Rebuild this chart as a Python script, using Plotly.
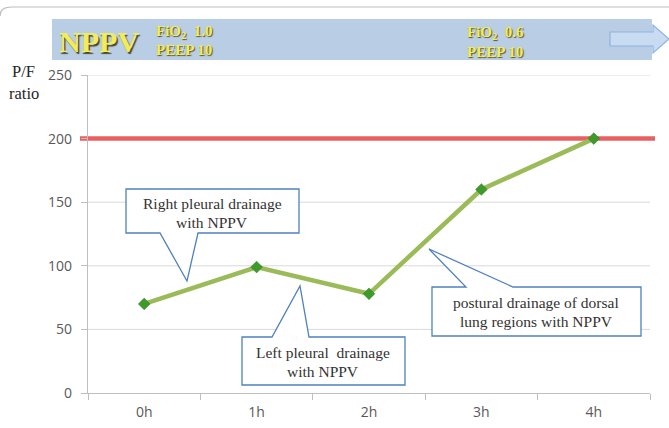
import plotly.graph_objects as go

# ---- data ----
hours = ["0h", "1h", "2h", "3h", "4h"]
pf_ratio = [70, 99, 78, 160, 200]
target_pf = 200
y_ticks = [0, 50, 100, 150, 200, 250]

W, H = 669, 428
ML, MR, MT, MB = 88, 19, 75, 35
PW = W - ML - MR
PH = H - MT - MB


def px(x):
    return (x - ML) / PW


def py(y):
    return (H - MB - y) / PH


def path(points):
    return "M " + " L ".join(f"{px(x):.5f},{py(y):.5f}" for x, y in points) + " Z"


fig = go.Figure()
fig.add_trace(go.Scatter(
    x=hours, y=pf_ratio, mode="lines+markers",
    line=dict(color="#9bbb59", width=4.5),
    marker=dict(symbol="diamond", size=9, color="#3f9a2c",
                line=dict(color="#2f7d1f", width=0.5)),
    showlegend=False, hoverinfo="skip",
))

shapes = []
# horizontal gridlines at the y tick values
for t in y_ticks[1:]:
    shapes.append(dict(type="line", xref="paper", yref="y", x0=0, x1=1, y0=t, y1=t,
                       line=dict(color="#d9d9d9", width=1), layer="below"))
# target line (on top of gridlines, below the data)
shapes.append(dict(type="line", xref="paper", yref="y",
                   x0=px(80), x1=px(655), y0=target_pf, y1=target_pf,
                   line=dict(color="#e8605f", width=4.5), layer="below"))
# outer chart frame (top edge with rounded corner)
shapes.append(dict(type="path", xref="paper", yref="paper",
                   path=f"M {px(0):.5f},{py(16):.5f} Q {px(0):.5f},{py(7):.5f} {px(12):.5f},{py(7):.5f} L {px(669):.5f},{py(7):.5f}",
                   line=dict(color="#bdbdbd", width=1.2), layer="above"))
# banner
shapes.append(dict(type="rect", xref="paper", yref="paper",
                   x0=px(52), x1=px(652), y0=py(60), y1=py(19),
                   fillcolor="#b9cde5", line=dict(width=0), layer="above"))
# arrow
shapes.append(dict(type="path", xref="paper", yref="paper",
                   path=path([(610, 32), (653, 32), (653, 25), (669, 39), (653, 53), (653, 46), (610, 46)]),
                   fillcolor="#c9dbf1", line=dict(color="#8db3e2", width=1.2), layer="above"))
# callouts
callout_style = dict(type="path", xref="paper", yref="paper",
                     fillcolor="white", line=dict(color="#4f81bd", width=1.3), layer="above")
shapes.append(dict(callout_style, path=path([(126, 189), (299, 189), (299, 233), (198, 233),
                                             (187, 281), (160, 233), (126, 233)])))
shapes.append(dict(callout_style, path=path([(242, 337), (272, 337), (300, 286), (309, 337),
                                             (405, 337), (405, 385), (242, 385)])))
shapes.append(dict(callout_style, path=path([(432, 287), (466, 287), (429, 249), (513, 287),
                                             (641, 287), (641, 336), (432, 336)])))

annotations = []
serif = "Liberation Serif"
yellow = "#f3ec5a"
shadow = "1px 1px 1px #55552a"


def ann(text, x, y, size, color="#333333", bold=False, xanchor="center", sh="none"):
    f = dict(family=serif, size=size, color=color, shadow=sh)
    if bold:
        f["weight"] = "bold"
    annotations.append(dict(text=text, x=px(x), y=py(y), xref="paper", yref="paper",
                            xanchor=xanchor, yanchor="middle", showarrow=False, font=f))


ann("NPPV", 57, 42, 30, color=yellow, bold=True, xanchor="left", sh="1.5px 1.5px 1px #4a4a2a")
ann("FiO<sub>2</sub>  1.0", 154, 32, 15, color=yellow, bold=True, xanchor="left", sh=shadow)
ann("PEEP 10", 154, 50, 15, color=yellow, bold=True, xanchor="left", sh=shadow)
ann("FiO<sub>2</sub>  0.6", 465, 33, 15, color=yellow, bold=True, xanchor="left", sh=shadow)
ann("PEEP 10", 465, 52, 15, color=yellow, bold=True, xanchor="left", sh=shadow)
ann("P/F", 23, 72, 16.5, color="#262626")
ann("ratio", 24, 93, 16.5, color="#262626")
ann("Right pleural drainage", 212, 203, 15.5)
ann("with NPPV", 212, 222, 15.5)
ann("Left pleural  drainage", 323, 352, 15.5)
ann("with NPPV", 323, 371, 15.5)
ann("postural drainage of dorsal", 536, 302, 15.5)
ann("lung regions with NPPV", 536, 321, 15.5)

fig.update_layout(
    width=W, height=H,
    margin=dict(l=ML, r=MR, t=MT, b=MB, autoexpand=False),
    paper_bgcolor="white", plot_bgcolor="rgba(0,0,0,0)",
    shapes=shapes, annotations=annotations,
    xaxis=dict(type="category", categoryarray=hours, range=[-0.5, 4.5],
               showgrid=False, showline=True, linecolor="#bfbfbf", linewidth=1.2,
               ticks="outside", tickson="boundaries", ticklen=6, tickcolor="#bfbfbf",
               ticklabelstandoff=6, automargin=False,
               tickfont=dict(family="Open Sans", size=14, color="#595959"),
               zeroline=False, fixedrange=True),
    yaxis=dict(range=[0, 250], tickvals=y_ticks, showgrid=False,
               showline=True, linecolor="#bfbfbf", linewidth=1.2,
               ticks="outside", ticklen=6, tickcolor="#bfbfbf",
               ticklabelstandoff=6, automargin=False,
               tickfont=dict(family="Open Sans", size=14, color="#595959"),
               zeroline=False, fixedrange=True),
)

fig.write_html("out.html", config={"displayModeBar": False},
               post_script="document.body.style.margin='0';")
